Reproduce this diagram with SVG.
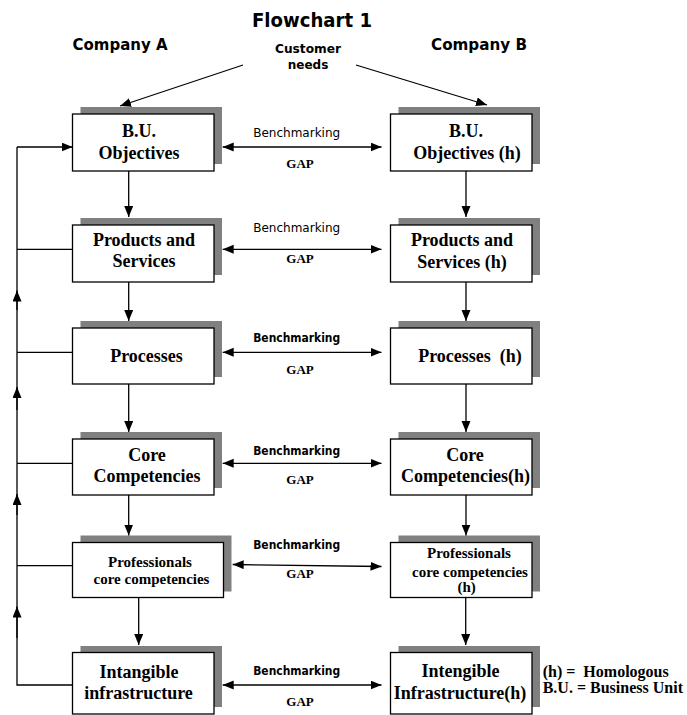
<svg xmlns="http://www.w3.org/2000/svg" width="687" height="715" viewBox="0 0 687 715">
<style>
.sh{fill:#808080;stroke:none}
.bx{fill:#fff;stroke:#000;stroke-width:1.3}
.t{font-family:"Liberation Serif","Times New Roman",serif;font-weight:bold;font-size:18px;fill:#000;text-anchor:middle}
.ts{font-size:15px}
.c{font-family:"DejaVu Sans",sans-serif;font-weight:bold;fill:#000;text-anchor:middle}
.bm{font-family:"DejaVu Sans",sans-serif;font-size:12px;fill:#000;text-anchor:middle}
.bb{font-weight:bold}
.gap{font-family:"Liberation Serif","Times New Roman",serif;font-weight:bold;font-size:13px;fill:#000;text-anchor:middle}
.lg{font-family:"Liberation Serif","Times New Roman",serif;font-weight:bold;font-size:16px;fill:#000}
.ln{stroke:#000;stroke-width:1.3;fill:none}
.a{marker-end:url(#ah)}
.d{marker-start:url(#ah);marker-end:url(#ah)}
</style>
<defs>
<marker id="ah" markerUnits="userSpaceOnUse" markerWidth="12" markerHeight="10" refX="11" refY="4.5" orient="auto-start-reverse">
<path d="M0,0 L11,4.5 L0,9 z" fill="#000"/>
</marker>
</defs>

<text class="c" x="312" y="27" font-size="19" textLength="120" lengthAdjust="spacingAndGlyphs">Flowchart 1</text>
<text class="c" x="120" y="50" font-size="15" textLength="95" lengthAdjust="spacingAndGlyphs">Company A</text>
<text class="c" x="479" y="50" font-size="15" textLength="96" lengthAdjust="spacingAndGlyphs">Company B</text>
<text class="c" x="308" y="53" font-size="12" textLength="66" lengthAdjust="spacingAndGlyphs">Customer</text>
<text class="c" x="308" y="69" font-size="12">needs</text>

<g id="a1"><rect class="sh" x="80.5" y="107" width="141.5" height="57"/><rect class="bx" x="72.5" y="114" width="141.5" height="57"/><text class="t" x="139" y="137">B.U.</text><text class="t" x="139" y="159">Objectives</text></g>
<g id="a2"><rect class="sh" x="80.5" y="218" width="141.5" height="57"/><rect class="bx" x="72.5" y="225" width="141.5" height="57"/><text class="t" x="144" y="245.7">Products and</text><text class="t" x="144" y="266.7">Services</text></g>
<g id="a3"><rect class="sh" x="80.5" y="321" width="141.5" height="56"/><rect class="bx" x="72.5" y="328" width="141.5" height="56"/><text class="t" x="146.5" y="361.7">Processes</text></g>
<g id="a4"><rect class="sh" x="80.5" y="432" width="141.5" height="56"/><rect class="bx" x="72.5" y="439" width="141.5" height="56"/><text class="t" x="147" y="461">Core</text><text class="t" x="147" y="482.3">Competencies</text></g>
<g id="a5"><rect class="sh" x="80.5" y="535.5" width="151" height="56"/><rect class="bx" x="72.5" y="542.5" width="151" height="55"/><text class="t ts" x="150" y="566.7">Professionals</text><text class="t ts" x="151.5" y="584.3">core competencies</text></g>
<g id="a6"><rect class="sh" x="80.5" y="646" width="141.5" height="61"/><rect class="bx" x="72.5" y="652.5" width="141.5" height="61.5"/><text class="t" x="139" y="678.3">Intangible</text><text class="t" x="138.5" y="699.3">infrastructure</text></g>

<g id="b1"><rect class="sh" x="398.5" y="107" width="141.5" height="57"/><rect class="bx" x="390.5" y="114" width="141.5" height="57"/><text class="t" x="466" y="137">B.U.</text><text class="t" x="467" y="159">Objectives (h)</text></g>
<g id="b2"><rect class="sh" x="398.5" y="218" width="141.5" height="57"/><rect class="bx" x="390.5" y="225" width="141.5" height="57"/><text class="t" x="462" y="245.7">Products and</text><text class="t" x="462" y="267.5">Services (h)</text></g>
<g id="b3"><rect class="sh" x="398.5" y="321" width="141.5" height="56"/><rect class="bx" x="390.5" y="328" width="141.5" height="56"/><text class="t" x="470" y="361.7" xml:space="preserve">Processes  (h)</text></g>
<g id="b4"><rect class="sh" x="398.5" y="432" width="141.5" height="56"/><rect class="bx" x="390.5" y="439" width="141.5" height="56"/><text class="t" x="465" y="461">Core</text><text class="t" x="465.5" y="482.3">Competencies(h)</text></g>
<g id="b5"><rect class="sh" x="398.5" y="535.5" width="141.5" height="56"/><rect class="bx" x="390.5" y="542.5" width="141.5" height="55"/><text class="t ts" x="469" y="558.3">Professionals</text><text class="t ts" x="470" y="576.7">core competencies</text><text class="t ts" x="466.7" y="591.7">(h)</text></g>
<g id="b6"><rect class="sh" x="398.5" y="646" width="141.5" height="61"/><rect class="bx" x="390.5" y="652.5" width="141.5" height="61.5"/><text class="t" x="460.5" y="676.7">Intengible</text><text class="t" x="460" y="699.3">Infrastructure(h)</text></g>

<g id="labels">
<text class="bm" x="296.7" y="136.7" textLength="87" lengthAdjust="spacingAndGlyphs">Benchmarking</text><text class="gap" x="300" y="168">GAP</text>
<text class="bm" x="296.7" y="232.3" textLength="87" lengthAdjust="spacingAndGlyphs">Benchmarking</text><text class="gap" x="300" y="263.3">GAP</text>
<text class="bm bb" x="296.7" y="342.3" textLength="87" lengthAdjust="spacingAndGlyphs">Benchmarking</text><text class="gap" x="300" y="374">GAP</text>
<text class="bm bb" x="296.7" y="455" textLength="87" lengthAdjust="spacingAndGlyphs">Benchmarking</text><text class="gap" x="300" y="484.3">GAP</text>
<text class="bm bb" x="296.7" y="549.3" textLength="87" lengthAdjust="spacingAndGlyphs">Benchmarking</text><text class="gap" x="300" y="578.3">GAP</text>
<text class="bm bb" x="296.7" y="675" textLength="87" lengthAdjust="spacingAndGlyphs">Benchmarking</text><text class="gap" x="300" y="706">GAP</text>
<text class="lg" x="542.7" y="676.7" xml:space="preserve">(h) =  Homologous</text>
<text class="lg" x="542.7" y="693.3">B.U. = Business Unit</text>
</g>

<g id="connectors">
<line class="ln a" x1="243" y1="65" x2="120" y2="106"/>
<line class="ln a" x1="356" y1="65" x2="487" y2="105"/>

<line class="ln d" x1="222.7" y1="147" x2="381.5" y2="147"/>
<line class="ln d" x1="222.7" y1="249.3" x2="381.5" y2="249.3"/>
<line class="ln d" x1="222.7" y1="352.3" x2="381.5" y2="352.3"/>
<line class="ln d" x1="222.7" y1="463.3" x2="381.5" y2="463.3"/>
<line class="ln d" x1="232.7" y1="564.5" x2="381.5" y2="566.5"/>
<line class="ln d" x1="222.7" y1="685" x2="381.5" y2="685"/>

<line class="ln a" x1="128.7" y1="171" x2="128.7" y2="217"/>
<line class="ln a" x1="128.7" y1="282" x2="128.7" y2="321"/>
<line class="ln a" x1="128.7" y1="384" x2="128.7" y2="432"/>
<line class="ln a" x1="128.7" y1="495" x2="128.7" y2="535.5"/>
<line class="ln a" x1="138.7" y1="597.5" x2="138.7" y2="645"/>

<line class="ln a" x1="466" y1="171" x2="466" y2="217"/>
<line class="ln a" x1="466" y1="282" x2="466" y2="321"/>
<line class="ln a" x1="466" y1="384" x2="466" y2="432"/>
<line class="ln a" x1="466" y1="495" x2="466" y2="535.5"/>
<line class="ln a" x1="465.7" y1="597.5" x2="465.7" y2="645"/>

<path class="ln" d="M72.5,685 H17 V147"/>
<line class="ln a" x1="17" y1="147" x2="72.5" y2="147"/>
<line class="ln" x1="17" y1="249.3" x2="72.5" y2="249.3"/>
<line class="ln" x1="17" y1="352.3" x2="72.5" y2="352.3"/>
<line class="ln" x1="17" y1="463.3" x2="72.5" y2="463.3"/>
<line class="ln" x1="17" y1="565.7" x2="72.5" y2="565.7"/>
<line class="ln a" x1="17" y1="310" x2="17" y2="290.5"/>
<line class="ln a" x1="17" y1="410" x2="17" y2="387"/>
<line class="ln a" x1="17" y1="515" x2="17" y2="494"/>
<line class="ln a" x1="17" y1="638" x2="17" y2="606.5" stroke-width="2.4"/>
</g>
</svg>
